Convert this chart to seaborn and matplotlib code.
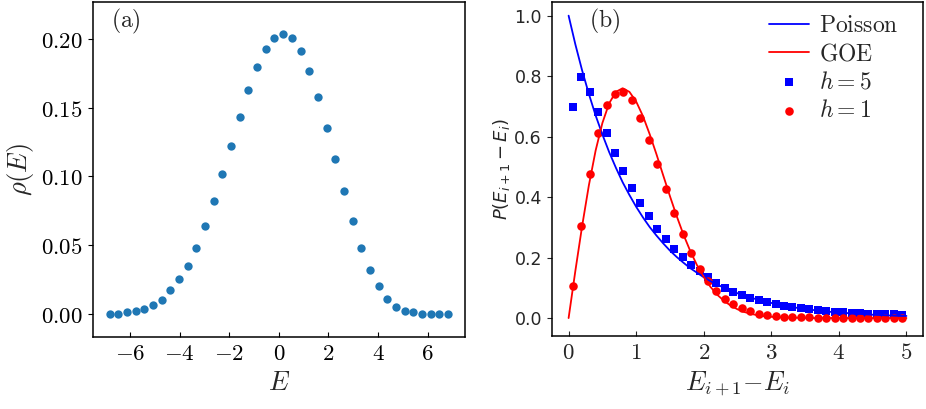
import numpy as np
import pandas as pd
import matplotlib
matplotlib.use("Agg")
import matplotlib.pyplot as plt
import seaborn as sns

sns.set_style("ticks")
plt.rcParams['mathtext.fontset'] = 'cm'
plt.rcParams['font.family'] = ['DejaVu Sans']
plt.rcParams['axes.linewidth'] = 1.1

# (a) densidade de estados
energia = [-6.825, -6.475, -6.125, -5.775, -5.425, -5.075, -4.725, -4.375, -4.025, -3.675,
           -3.325, -2.975, -2.625, -2.275, -1.925, -1.575, -1.225, -0.875, -0.525, -0.175,
           0.175, 0.525, 0.875, 1.225, 1.575, 1.925, 2.275, 2.625, 2.975, 3.325,
           3.675, 4.025, 4.375, 4.725, 5.075, 5.425, 5.775, 6.125, 6.475, 6.825]
rho = [0.000, 0.000, 0.001, 0.002, 0.0035, 0.0065, 0.010, 0.017, 0.025, 0.035,
       0.048, 0.064, 0.082, 0.102, 0.1225, 0.143, 0.163, 0.1795, 0.1925, 0.201,
       0.204, 0.201, 0.191, 0.1765, 0.1575, 0.1355, 0.1125, 0.0895, 0.0675, 0.048,
       0.032, 0.020, 0.011, 0.005, 0.002, 0.001, 0.000, 0.000, 0.000, 0.000]

# (b) distribuicao de espacamentos
espac = [0.0625, 0.1875, 0.3125, 0.4375, 0.5625, 0.6875, 0.8125, 0.9375, 1.0625, 1.1875,
         1.3125, 1.4375, 1.5625, 1.6875, 1.8125, 1.9375, 2.0625, 2.1875, 2.3125, 2.4375,
         2.5625, 2.6875, 2.8125, 2.9375, 3.0625, 3.1875, 3.3125, 3.4375, 3.5625, 3.6875,
         3.8125, 3.9375, 4.0625, 4.1875, 4.3125, 4.4375, 4.5625, 4.6875, 4.8125, 4.9375]
p_h5 = [0.698, 0.797, 0.746, 0.681, 0.612, 0.547, 0.486, 0.431, 0.381, 0.337,
        0.296, 0.260, 0.229, 0.201, 0.176, 0.154, 0.137, 0.116, 0.100, 0.087,
        0.077, 0.067, 0.060, 0.053, 0.046, 0.041, 0.036, 0.032, 0.029, 0.025,
        0.023, 0.021, 0.019, 0.017, 0.016, 0.015, 0.014, 0.013, 0.012, 0.011]
p_h1 = [0.105, 0.304, 0.475, 0.612, 0.703, 0.740, 0.746, 0.720, 0.663, 0.590,
        0.508, 0.427, 0.348, 0.278, 0.214, 0.162, 0.122, 0.089, 0.064, 0.046,
        0.032, 0.023, 0.015, 0.010, 0.0066, 0.0045, 0.003, 0.002, 0.002, 0.0015,
        0.0015, 0.001, 0.001, 0.001, 0.001, 0.001, 0.001, 0.001, 0.001, 0.001]

# curvas teoricas
s_curva = [0.0, 0.1, 0.2, 0.3, 0.4, 0.5, 0.6, 0.7, 0.8, 0.9, 1.0, 1.1, 1.2, 1.3, 1.4, 1.5, 1.6,
           1.7, 1.8, 1.9, 2.0, 2.1, 2.2, 2.3, 2.4, 2.5, 2.6, 2.7, 2.8, 2.9, 3.0, 3.1, 3.2, 3.3,
           3.4, 3.5, 3.6, 3.7, 3.8, 3.9, 4.0, 4.1, 4.2, 4.3, 4.4, 4.5, 4.6, 4.7, 4.8, 4.9, 5.0]
poisson = [1.000, 0.905, 0.819, 0.741, 0.670, 0.607, 0.549, 0.497, 0.449, 0.407, 0.368,
           0.333, 0.301, 0.273, 0.247, 0.223, 0.202, 0.183, 0.165, 0.150, 0.135,
           0.122, 0.111, 0.100, 0.091, 0.082, 0.074, 0.067, 0.061, 0.055, 0.050,
           0.045, 0.041, 0.037, 0.033, 0.030, 0.027, 0.025, 0.022, 0.020, 0.018,
           0.017, 0.015, 0.014, 0.012, 0.011, 0.010, 0.009, 0.008, 0.007, 0.007]
goe = [0.000, 0.156, 0.304, 0.439, 0.554, 0.645, 0.710, 0.748, 0.760, 0.748, 0.716,
       0.668, 0.608, 0.542, 0.472, 0.403, 0.337, 0.276, 0.222, 0.175, 0.136,
       0.103, 0.077, 0.057, 0.041, 0.029, 0.020, 0.014, 0.009, 0.006, 0.004,
       0.003, 0.002, 0.001, 0.001, 0.000, 0.000, 0.000, 0.000, 0.000, 0.000,
       0.000, 0.000, 0.000, 0.000, 0.000, 0.000, 0.000, 0.000, 0.000, 0.000]

df_a = pd.DataFrame({'E': energia, 'rho': rho})
df_b = pd.DataFrame({'s': espac, 'h5': p_h5, 'h1': p_h1})
df_c = pd.DataFrame({'s': s_curva, 'poisson': poisson, 'goe': goe})

fig = plt.figure(figsize=(9.26, 4.09), dpi=100)
ax1 = fig.add_axes([0.1001, 0.176, 0.402, 0.819])
ax2 = fig.add_axes([0.5958, 0.178, 0.4013, 0.817])

# painel (a)
sns.scatterplot(data=df_a, x='E', y='rho', ax=ax1, color='#1f77b4', s=36, linewidth=0)
ax1.set_ylim(-0.017, 0.227)
ax1.set_xticks([-6, -4, -2, 0, 2, 4, 6])
ax1.set_xticklabels([f'${v}$' for v in [-6, -4, -2, 0, 2, 4, 6]])
ax1.set_yticks([0, 0.05, 0.10, 0.15, 0.20])
ax1.set_yticklabels([f'${v:.2f}$' for v in [0, 0.05, 0.10, 0.15, 0.20]])
ax1.tick_params(axis='both', labelsize=16.5, colors='black')
ax1.tick_params(axis='x', direction='in')
ax1.set_xlabel(r'$E$', fontsize=19)
ax1.set_ylabel(r'$\rho(E)$', fontsize=19)
ax1.text(0.05, 0.985, r'$\mathrm{(a)}$', transform=ax1.transAxes, fontsize=17, va='top')

# painel (b)
sns.lineplot(data=df_c, x='s', y='poisson', ax=ax2, color='blue', linewidth=1.3,
             label=r'$\mathrm{Poisson}$')
sns.lineplot(data=df_c, x='s', y='goe', ax=ax2, color='red', linewidth=1.3,
             label=r'$\mathrm{GOE}$')
sns.scatterplot(data=df_b, x='s', y='h5', ax=ax2, color='blue', marker='s', s=34,
                linewidth=0, label=r'$h=5$')
sns.scatterplot(data=df_b, x='s', y='h1', ax=ax2, color='red', marker='o', s=38,
                linewidth=0, label=r'$h=1$')
ax2.set_ylim(-0.06, 1.045)
ax2.set_xticks([0, 1, 2, 3, 4, 5])
ax2.set_xticklabels([f'${v}$' for v in [0, 1, 2, 3, 4, 5]])
ax2.set_yticks([0.0, 0.2, 0.4, 0.6, 0.8, 1.0])
ax2.set_yticklabels([f'{v:.1f}' for v in [0.0, 0.2, 0.4, 0.6, 0.8, 1.0]])
ax2.tick_params(axis='x', labelsize=16.5, direction='in')
ax2.tick_params(axis='y', labelsize=12.5)
ax2.set_xlabel(r'$E_{i+1}{-}E_i$', fontsize=19)
ax2.set_ylabel(r'$P(E_{i+1}-E_i)$', fontsize=13, math_fontfamily='dejavusans', labelpad=2)
ax2.text(0.1, 0.985, r'$\mathrm{(b)}$', transform=ax2.transAxes, fontsize=17, va='top')
ax2.legend(loc='upper right', bbox_to_anchor=(0.958, 0.995), frameon=False, fontsize=17,
           handlelength=1.7, handletextpad=0.4, labelspacing=0.18, borderaxespad=0)

for ax in (ax1, ax2):
    for sp in ax.spines.values():
        sp.set_visible(True)
        sp.set_color('black')

fig.savefig('out.png', dpi=100)
